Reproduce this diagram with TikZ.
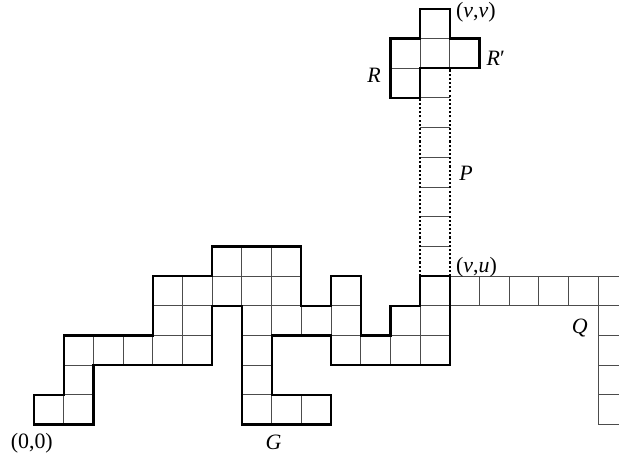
\documentclass[tikz,border=0pt]{standalone}
\usepackage{fontspec}
\setmainfont{Liberation Serif}
\begin{document}
\begin{tikzpicture}[
    x=5mm, y=5mm,
    cell/.style={
        draw=black!70,
        line width=0.45pt
    },
    border/.style={
        draw=black,
        line width=1.1pt,
        line join=miter
    },
    walk/.style={
        draw=black,
        line width=1pt,
        dash pattern=on 1pt off 1pt
    },
    lbl/.style={
        font=\fontsize{10.5}{12}\selectfont,
        inner sep=0pt
    }
]
\clip (-1.15,-1.2) rectangle (19.7,14.3);

% Cells of G
\foreach \i/\j in {0/0,1/0,7/0,8/0,9/0,
                   1/1,7/1,
                   1/2,2/2,3/2,4/2,5/2,7/2,10/2,11/2,12/2,13/2,
                   4/3,5/3,7/3,8/3,9/3,10/3,12/3,13/3,
                   4/4,5/4,6/4,7/4,8/4,10/4,13/4,
                   6/5,7/5,8/5}
    \draw[cell] (\i,\j) rectangle ++(1,1);

% Path Q
\foreach \i in {14,...,20}
    \draw[cell] (\i,4) rectangle ++(1,1);
\foreach \j in {0,...,3}
    \draw[cell] (19,\j) rectangle ++(1,1);

% Path P
\foreach \j in {6,...,11}
    \draw[cell] (13,\j) -- (14,\j);
\draw[walk] (13,5) -- (13,11);
\draw[walk] (14,5) -- (14,12);

% R and R'
\foreach \i/\j in {12/11,12/12,13/12,14/12,13/13}
    \draw[cell] (\i,\j) rectangle ++(1,1);

% Outlines
\draw[border] (0,0) -- (2,0) -- (2,2) -- (6,2) -- (6,4) -- (7,4) -- (7,0)
    -- (10,0) -- (10,1) -- (8,1) -- (8,3) -- (10,3) -- (10,2) -- (14,2)
    -- (14,5) -- (13,5) -- (13,4) -- (12,4) -- (12,3) -- (11,3) -- (11,5)
    -- (10,5) -- (10,4) -- (9,4) -- (9,6) -- (6,6) -- (6,5) -- (4,5)
    -- (4,3) -- (1,3) -- (1,1) -- (0,1) -- cycle;
\draw[border] (12,11) -- (13,11) -- (13,12) -- (15,12) -- (15,13) -- (14,13)
    -- (14,14) -- (13,14) -- (13,13) -- (12,13) -- cycle;

% Labels
\node[lbl] (origin) at (-0.08,-0.63) {(0,0)};
\node[lbl] (g) at (8.06,-0.61) {\textit{G}};
\node[lbl] (q) at (18.38,3.25) {\textit{Q}};
\node[lbl] (vu) at (14.9,5.3) {(\textit{v},\textit{u})};
\node[lbl] (p) at (14.55,8.45) {\textit{P}};
\node[lbl] (r) at (11.45,11.77) {\textit{R}};
\node[lbl] (rp) at (15.55,12.34) {\textit{R}′};
\node[lbl] (vv) at (14.88,13.88) {(\textit{v},\textit{v})};

\end{tikzpicture}
\end{document}
